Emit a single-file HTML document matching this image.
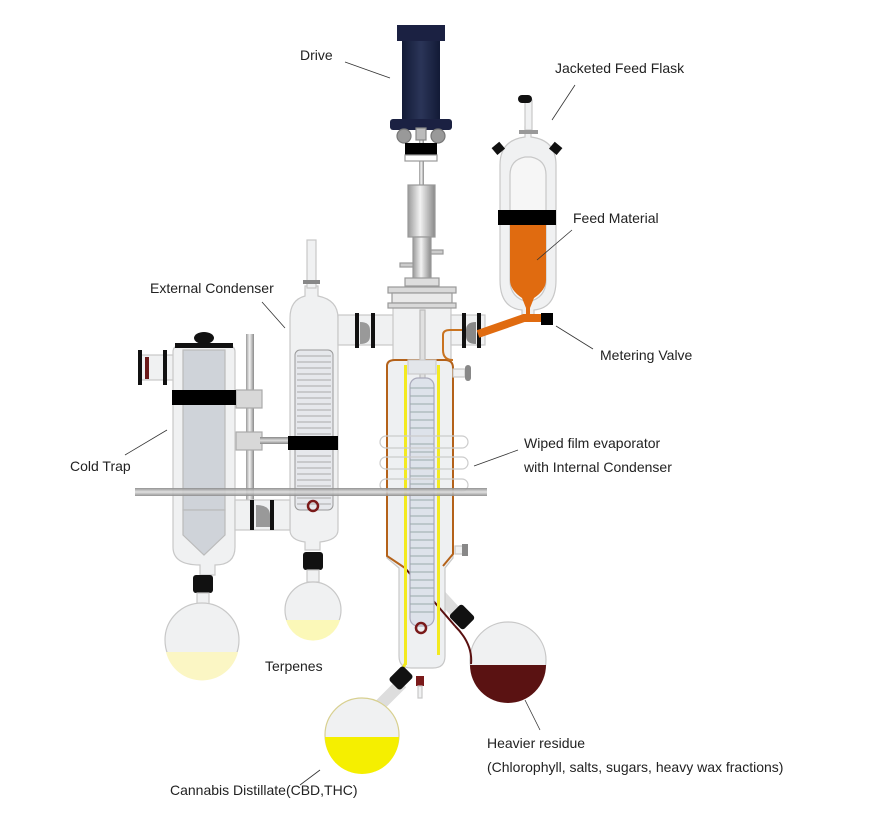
<!DOCTYPE html>
<html><head><meta charset="utf-8"><style>
html,body{margin:0;padding:0;background:#fff;}
svg{display:block}
text{font-family:"Liberation Sans",sans-serif;font-size:14px;fill:#222}
</style></head><body>
<svg width="889" height="832" viewBox="0 0 889 832" xmlns="http://www.w3.org/2000/svg">
<defs>
<linearGradient id="met" x1="0" x2="1"><stop offset="0" stop-color="#9a9a9a"/><stop offset=".45" stop-color="#f2f2f2"/><stop offset="1" stop-color="#8a8a8a"/></linearGradient>
<linearGradient id="rod" x1="0" x2="0" y1="0" y2="1"><stop offset="0" stop-color="#888"/><stop offset=".5" stop-color="#ddd"/><stop offset="1" stop-color="#888"/></linearGradient>
<linearGradient id="motor" x1="0" x2="1"><stop offset="0" stop-color="#121a36"/><stop offset=".5" stop-color="#2b3558"/><stop offset="1" stop-color="#121a36"/></linearGradient>
</defs>
<g stroke="#c8c8c8" stroke-width="1.2" fill="#f0f1f2">
<!-- vertical rod -->
<rect x="246" y="334" width="8" height="166" fill="url(#met)" stroke="none"/>
<rect x="236" y="390" width="26" height="18" fill="#d8d8d8" stroke="#aaa"/>
<rect x="236" y="432" width="26" height="18" fill="#d8d8d8" stroke="#aaa"/>
<rect x="260" y="437" width="30" height="7" fill="url(#rod)" stroke="none"/>
<!-- cold trap -->
<rect x="140" y="355" width="36" height="25"/>
<path d="M173 352 q0-6 6-6 h50 q6 0 6 6 v195 q0 18-20 18 v10 h-15 v-10 q-27 0-27-18z"/>
<rect x="183" y="350" width="42" height="160" fill="#cfd3d9" stroke="#bbb"/>
<path d="M183 510 v25 l21 20 l21-20 v-25z" fill="#cfd3d9" stroke="#bbb"/>
<rect x="175" y="343" width="58" height="5" fill="#111" stroke="none"/>
<ellipse cx="204" cy="338" rx="10" ry="6" fill="#111" stroke="none"/>
<rect x="172" y="390" width="64" height="15" fill="#000" stroke="none"/>
<rect x="138" y="350" width="4" height="35" fill="#111" stroke="none"/>
<rect x="163" y="350" width="4" height="35" fill="#111" stroke="none"/>
<rect x="145" y="357" width="4" height="22" fill="#6b1a1a" stroke="none"/>
<!-- cold trap flask -->
<rect x="193" y="575" width="20" height="18" rx="3" fill="#111" stroke="none"/>
<rect x="197" y="593" width="12" height="12"/>
<circle cx="202" cy="640" r="37"/>
<path d="M166 652 h72 a37 37 0 0 1 -72 0z" fill="#fbf6c4" stroke="none"/>
<!-- ext condenser -->
<path d="M290 318 q0-18 15-22 v-10 h13 v10 q20 4 20 22 v212 q0 10-18 12 v8 h-15 v-8 q-15-2-15-12z"/>
<rect x="307" y="240" width="9" height="48"/>
<rect x="303" y="280" width="17" height="4" fill="#888" stroke="none"/>
<rect x="295" y="350" width="38" height="160" rx="5" stroke="#999" stroke-width="1" fill="#e6e8ec"/>
<g stroke="#aaa" stroke-width="1">
<path d="M297 356 h34 M297 362 h34 M297 368 h34 M297 374 h34 M297 380 h34 M297 386 h34 M297 392 h34 M297 398 h34 M297 404 h34 M297 410 h34 M297 416 h34 M297 422 h34 M297 428 h34 M297 434 h34 M297 456 h34 M297 462 h34 M297 468 h34 M297 474 h34 M297 480 h34 M297 486 h34 M297 492 h34 M297 498 h34 M297 504 h34"/>
</g>
<rect x="288" y="436" width="50" height="14" fill="#000" stroke="none"/>
<circle cx="313" cy="506" r="5" fill="none" stroke="#7a1a1a" stroke-width="2.5"/>
<!-- lower connector trap->condenser -->
<rect x="235" y="500" width="55" height="30"/>
<rect x="250" y="500" width="4" height="30" fill="#111" stroke="none"/>
<rect x="270" y="500" width="4" height="30" fill="#111" stroke="none"/>
<path d="M256 505 q14 0 14 10 v12 h-14z" fill="#999" stroke="none"/>
<!-- terpenes flask -->
<rect x="303" y="552" width="20" height="18" rx="3" fill="#111" stroke="none"/>
<rect x="307" y="570" width="12" height="12"/>
<circle cx="313" cy="610" r="28"/>
<path d="M286 620 h54 a28 28 0 0 1 -54 0z" fill="#fbf8b8" stroke="none"/>
<!-- pipe condenser -> evaporator -->
<rect x="338" y="315" width="56" height="30"/>
<rect x="355" y="313" width="4" height="35" fill="#111" stroke="none"/>
<rect x="371" y="313" width="4" height="35" fill="#111" stroke="none"/>
<path d="M360 322 q10 0 10 8 v6 q0 8-10 8z" fill="#999" stroke="none"/>
<!-- evaporator -->
<rect x="393" y="303" width="58" height="60"/>
<rect x="451" y="315" width="34" height="30"/>
<rect x="462" y="313" width="4" height="35" fill="#111" stroke="none"/>
<rect x="477" y="313" width="4" height="35" fill="#111" stroke="none"/>
<path d="M476 322 q-10 0-10 8 v6 q0 8 10 8z" fill="#888" stroke="none"/>
<!-- residue port tube -->
<path d="M440 595 l22 24" stroke="#ddd" stroke-width="12" fill="none"/>
<path d="M387 368 q0-8 8-8 h50 q8 0 8 8 v190 l-8 10 v88 q0 12-12 12 h-22 q-12 0-12-12 v-88 l-12-10z" fill="#eef0f2"/>
<path d="M387 366 q0-6 8-6 h50 q8 0 8 8 v186 l-10 12" fill="none" stroke="#b4621a" stroke-width="2"/>
<path d="M387 366 v190 l18 12" fill="none" stroke="#b4621a" stroke-width="2"/>
<path d="M405 568 l50 58" fill="none" stroke="#5a1010" stroke-width="2"/>
<path d="M453 360 q-10 0-10-10 v-15 q0-5 7-5 h12" fill="none" stroke="#c97320" stroke-width="2"/>
<rect x="404" y="365" width="3" height="300" fill="#f3ea20" stroke="none"/>
<rect x="437" y="365" width="3" height="290" fill="#f3ea20" stroke="none"/>
<path d="M405 664 l-8 16" stroke="#f3ea20" stroke-width="3" fill="none"/>
<rect x="420" y="310" width="5" height="70" fill="#e0e0e0" stroke="#bbb"/>
<rect x="408" y="360" width="28" height="14" fill="#e3e6ea" stroke="#ccc"/>
<rect x="410" y="378" width="24" height="248" rx="8" fill="#dde2ea" stroke="#aab"/>
<g stroke="#9aa" stroke-width="1">
<path d="M410 388h24M410 396h24M410 404h24M410 412h24M410 420h24M410 428h24M410 436h24M410 444h24M410 452h24M410 460h24M410 468h24M410 476h24M410 484h24M410 492h24M410 500h24M410 508h24M410 516h24M410 524h24M410 532h24M410 540h24M410 548h24M410 556h24M410 564h24M410 572h24M410 580h24M410 588h24M410 596h24M410 604h24M410 612h24"/>
</g>
<g fill="none" stroke="#ccc">
<rect x="380" y="436" width="88" height="12" rx="6"/>
<rect x="380" y="457" width="88" height="12" rx="6"/>
<rect x="380" y="479" width="88" height="12" rx="6"/>
</g>
<circle cx="421" cy="628" r="5" fill="none" stroke="#7a1a1a" stroke-width="2.5"/>
<rect x="453" y="369" width="12" height="8"/>
<rect x="465" y="365" width="6" height="16" rx="3" fill="#888" stroke="none"/>
<rect x="455" y="546" width="8" height="8"/>
<rect x="462" y="544" width="6" height="12" fill="#888" stroke="none"/>
<rect x="416" y="676" width="8" height="10" fill="#7a1a1a" stroke="none"/>
<rect x="418" y="686" width="4" height="12"/>
<!-- flange top -->
<rect x="388" y="287" width="68" height="6" fill="#d9d9d9" stroke="#999"/>
<rect x="392" y="293" width="60" height="10" fill="#e9e9e9" stroke="#999"/>
<rect x="388" y="303" width="68" height="5" fill="#d9d9d9" stroke="#999"/>
<!-- shaft assembly -->
<rect x="419" y="125" width="5" height="65" fill="url(#met)" stroke="none"/>
<rect x="408" y="185" width="27" height="52" fill="url(#met)" stroke="#999"/>
<rect x="413" y="237" width="18" height="48" fill="url(#met)" stroke="#999"/>
<rect x="400" y="263" width="13" height="4" fill="#ccc" stroke="#999"/>
<rect x="431" y="250" width="12" height="4" fill="#ccc" stroke="#999"/>
<rect x="405" y="278" width="34" height="8" fill="#ddd" stroke="#999"/>
<!-- horizontal rod -->
<rect x="135" y="488" width="352" height="8" fill="url(#rod)" stroke="none" opacity=".9"/>
<!-- drive -->
<rect x="397" y="25" width="48" height="16" fill="#1b2142" stroke="none"/>
<rect x="402" y="41" width="38" height="80" fill="url(#motor)" stroke="none"/>
<rect x="390" y="119" width="62" height="11" rx="3" fill="#1b2142" stroke="none"/>
<circle cx="404" cy="136" r="7" fill="#999" stroke="#777"/>
<circle cx="438" cy="136" r="7" fill="#999" stroke="#777"/>
<rect x="416" y="128" width="10" height="12" fill="#bbb" stroke="#888"/>
<rect x="405" y="143" width="32" height="12" fill="#000" stroke="none"/>
<rect x="405" y="155" width="32" height="6" fill="#fff" stroke="#999"/>
<!-- residue flask -->
<rect x="452" y="608" width="20" height="18" rx="3" fill="#111" stroke="none" transform="rotate(45 462 617)"/>
<circle cx="508" cy="660" r="38"/>
<path d="M470 665 h76 a38 38 0 0 1 -76 0z" fill="#5a1212" stroke="none"/>
<path d="M455 626 q18 18 16 38" fill="none" stroke="#5a1010" stroke-width="2"/>
<!-- distillate flask -->
<path d="M402 683 l-25 25" stroke="#ddd" stroke-width="12" fill="none"/>
<rect x="391" y="670" width="20" height="16" rx="3" fill="#111" stroke="none" transform="rotate(-45 401 678)"/>
<circle cx="362" cy="735" r="37" stroke="#d8d090"/>
<path d="M325 737 h74 a37 37 0 0 1 -74 0z" fill="#f5ef00" stroke="none"/>
<!-- feed flask -->
<path d="M500 165 q0-25 25-28 v-10 h6 v10 q25 3 25 28 v115 q0 28-22 30 v10 h-12 v-10 q-22-2-22-30z"/>
<path d="M510 175 q0-15 15-18 h6 q15 3 15 18 v105 q0 18-18 22 q-18-4-18-22z" fill="#f6f6f6"/>
<path d="M510 225 h36 v55 q0 10-12 18 l-4 10 v10 h-4 v-10 l-4-10 q-12-8-12-18z" fill="#e06b10" stroke="none"/>
<rect x="525" y="100" width="7" height="30"/>
<rect x="519" y="130" width="19" height="4" fill="#999" stroke="none"/>
<rect x="518" y="95" width="14" height="8" rx="4" fill="#111" stroke="none"/>
<rect x="493" y="144" width="10" height="9" fill="#111" stroke="none" transform="rotate(-40 498 148)"/>
<rect x="551" y="144" width="10" height="9" fill="#111" stroke="none" transform="rotate(40 556 148)"/>
<rect x="498" y="210" width="58" height="15" fill="#000" stroke="none"/>
<path d="M478 334 L524 318 H541" stroke="#e06b10" stroke-width="8" fill="none"/>
<rect x="541" y="313" width="12" height="12" fill="#000" stroke="none"/>
</g>
<!-- leader lines -->
<g stroke="#333" stroke-width="0.8" fill="none">
<path d="M345 62 L390 78"/><path d="M575 85 L552 120"/><path d="M572 230 L537 260"/>
<path d="M262 302 L285 328"/><path d="M593 349 L556 326"/><path d="M125 455 L167 430"/>
<path d="M518 450 L474 466"/><path d="M540 730 L525 700"/><path d="M300 785 L320 770"/>
</g>
<text x="300" y="60">Drive</text>
<text x="555" y="73">Jacketed Feed Flask</text>
<text x="573" y="223">Feed Material</text>
<text x="150" y="293">External Condenser</text>
<text x="600" y="360">Metering Valve</text>
<text x="70" y="471">Cold Trap</text>
<text x="524" y="448">Wiped film evaporator</text>
<text x="524" y="472">with Internal Condenser</text>
<text x="265" y="671">Terpenes</text>
<text x="487" y="748">Heavier residue</text>
<text x="487" y="772">(Chlorophyll, salts, sugars, heavy wax fractions)</text>
<text x="170" y="795">Cannabis Distillate(CBD,THC)</text>
</svg>
</body></html>
